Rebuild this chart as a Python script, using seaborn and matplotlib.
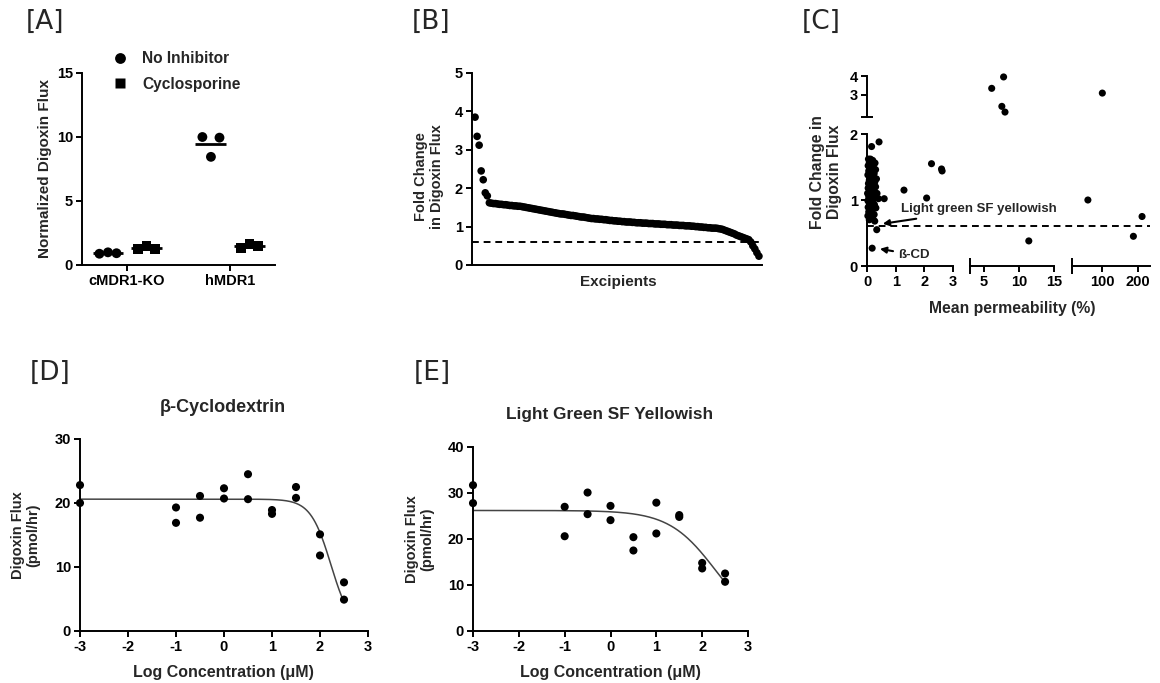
import numpy as np
import pandas as pd
import seaborn as sns
import matplotlib.pyplot as plt

# -------------------------------------------------
# Data
# -------------------------------------------------
# [A] normalized digoxin flux, three replicates per group
cells = ['cMDR1-KO', 'hMDR1']
no_inhibitor = [[0.88, 0.99, 0.92], [10.00, 8.45, 9.95]]
cyclosporine = [[1.25, 1.50, 1.28], [1.35, 1.61, 1.51]]

# [B] fold change in digoxin flux, excipients sorted high to low
fold_change = [
    3.85, 3.35, 3.12, 2.45, 2.22, 1.88, 1.80,
    1.62, 1.61, 1.60, 1.60, 1.59, 1.58, 1.58, 1.57, 1.57, 1.56, 1.55, 1.55,
    1.54, 1.54, 1.53, 1.53, 1.52,
    1.51, 1.50, 1.49, 1.48, 1.47, 1.46, 1.45, 1.44, 1.43, 1.42, 1.41, 1.40,
    1.39, 1.38, 1.37, 1.36, 1.35,
    1.34, 1.33, 1.33, 1.32, 1.31, 1.30, 1.29, 1.29, 1.28, 1.27, 1.26, 1.25,
    1.25, 1.24, 1.23, 1.22,
    1.21, 1.21, 1.20, 1.20, 1.19, 1.19, 1.18, 1.18, 1.17, 1.16, 1.16, 1.15,
    1.15, 1.14, 1.14, 1.13,
    1.13, 1.12, 1.12, 1.12, 1.11, 1.11, 1.10, 1.10, 1.10, 1.09, 1.09, 1.09,
    1.08, 1.08, 1.08, 1.07, 1.07,
    1.07, 1.06, 1.06, 1.06, 1.05, 1.05, 1.05, 1.04, 1.04, 1.04, 1.03, 1.03,
    1.03, 1.02, 1.02, 1.02,
    1.01, 1.01, 1.00, 1.00, 0.99, 0.99, 0.98, 0.98, 0.97, 0.97, 0.96, 0.96,
    0.96, 0.95, 0.94, 0.93, 0.91, 0.89, 0.87, 0.85, 0.83,
    0.81, 0.78, 0.76, 0.74, 0.72, 0.70, 0.68,
    0.66, 0.60, 0.50, 0.42, 0.32, 0.23,
]
threshold = 0.6

# [C] mean permeability (%) vs fold change
perm = [
    0.05, 0.12, 0.20, 0.08, 0.28, 0.15, 0.04, 0.22, 0.10, 0.30, 0.06, 0.18,
    0.25, 0.03, 0.12, 0.20, 0.33, 0.08, 0.15, 0.27, 0.05, 0.22, 0.11, 0.30,
    0.04, 0.17, 0.25, 0.09, 0.35, 0.02, 0.14, 0.21, 0.06, 0.28, 0.12, 0.40,
    0.03, 0.19, 0.08, 0.26, 0.14, 0.04, 0.22, 0.10, 0.31, 0.06, 0.17, 0.25,
    0.03, 0.12, 0.20, 0.08, 0.27,
    0.16, 0.42, 0.60, 1.29, 2.08, 2.25, 2.60, 2.62, 0.34, 0.18,
    6.1, 7.8, 7.55, 8.0, 11.4, 101, 61, 187, 211,
]
perm_fold = [
    1.62, 1.62, 1.60, 1.57, 1.56, 1.54, 1.52, 1.50, 1.48, 1.46, 1.44, 1.42,
    1.40, 1.38, 1.36, 1.34, 1.32, 1.30, 1.28, 1.27, 1.25, 1.23, 1.21, 1.20,
    1.18, 1.16, 1.14, 1.12, 1.10, 1.10, 1.08, 1.06, 1.05, 1.03, 1.01, 1.02,
    0.99, 0.97, 0.95, 0.93, 0.91, 0.89, 0.87, 0.85, 0.88, 0.82, 0.80, 0.78,
    0.76, 0.74, 0.72, 0.70, 0.68,
    1.81, 1.88, 1.02, 1.15, 1.03, 1.55, 1.47, 1.44, 0.55, 0.27,
    3.35, 3.95, 2.40, 2.10, 0.38, 3.10, 1.00, 0.45, 0.75,
]

# [D] / [E] concentration response
log_conc = [-3, -3, -1, -1, -0.5, -0.5, 0, 0, 0.5, 0.5, 1, 1, 1.5, 1.5, 2, 2, 2.5, 2.5]
flux_bcd = [22.8, 20.0, 19.3, 16.9, 21.1, 17.7, 22.3, 20.7, 24.5, 20.6,
            18.9, 18.3, 22.5, 20.8, 15.1, 11.8, 7.6, 4.9]
flux_lgsf = [31.7, 27.8, 27.0, 20.6, 30.1, 25.4, 27.2, 24.1, 20.4, 17.5,
             27.9, 21.2, 25.2, 24.8, 14.8, 13.6, 12.5, 10.7]
# fitted 4PL curve parameters (top, bottom, logIC50, hill)
fit_bcd = (20.6, 0.0, 2.23, 2.04)
fit_lgsf = (26.2, 0.0, 2.30, 0.85)

# -------------------------------------------------
# Style
# -------------------------------------------------
sns.set_theme(style='ticks')
plt.rcParams['font.family'] = ['Liberation Sans', 'DejaVu Sans']
plt.rcParams['font.weight'] = 'bold'
plt.rcParams['axes.unicode_minus'] = False
plt.rcParams['axes.linewidth'] = 1.4

TICK = 10.5

W, H = 1160, 683
fig = plt.figure(figsize=(W / 100, H / 100), dpi=100)


def add_px_axes(x0, y0, x1, y1):
    return fig.add_axes([x0 / W, 1 - y1 / H, (x1 - x0) / W, (y1 - y0) / H])


def fig_text(x, y, s, **kw):
    kw.setdefault('ha', 'center')
    kw.setdefault('va', 'center')
    fig.text(x / W, 1 - y / H, s, **kw)


def style_axes(ax, size=TICK):
    sns.despine(ax=ax)
    for sp in ['left', 'bottom']:
        ax.spines[sp].set_linewidth(1.4)
        ax.spines[sp].set_color('black')
    ax.tick_params(direction='out', length=4.5, width=1.4, colors='black',
                   labelsize=size, pad=2)
    ax.set_xlabel('')
    ax.set_ylabel('')
    for lab in ax.get_xticklabels() + ax.get_yticklabels():
        lab.set_fontweight('bold')


def panel_label(x, y, s):
    fig.text(x / W, 1 - y / H, s, fontsize=19, family='DejaVu Sans',
             fontweight='normal', ha='left', va='center')


# -------------------------------------------------
# [A]
# -------------------------------------------------
ax = add_px_axes(82, 73, 275, 265)
rows = []
for ci, cell in enumerate(cells):
    for treat, vals, shift in [('No Inhibitor', no_inhibitor[ci], -0.185),
                               ('Cyclosporine', cyclosporine[ci], 0.19)]:
        for ri, v in enumerate(vals):
            rows.append(dict(pos=ci + shift + (ri - 1) * 0.083, value=v,
                             Treatment=treat))
        ax.hlines(np.mean(vals), ci + shift - 0.15, ci + shift + 0.15,
                  color='black', lw=2)
df_a = pd.DataFrame(rows)
sns.scatterplot(data=df_a, x='pos', y='value', style='Treatment',
                markers={'No Inhibitor': 'o', 'Cyclosporine': 's'},
                color='black', s=50, edgecolor='none', ax=ax, zorder=3)
ax.set_xlim(-0.437, 1.437)
ax.set_ylim(0, 15)
ax.set_xticks([0, 1])
ax.set_xticklabels(cells)
ax.set_yticks([0, 5, 10, 15])
style_axes(ax)
handles, labels = ax.get_legend_handles_labels()
ax.legend(handles, labels, frameon=False, loc='upper left',
          bbox_to_anchor=(111 / W, 1 - 51 / H), bbox_transform=fig.transFigure,
          prop={'size': 11.2, 'weight': 'bold'}, handlelength=1.1,
          handletextpad=0.9, labelspacing=0.7, borderpad=0, borderaxespad=0,
          markerscale=1.1)
fig_text(45, 169, 'Normalized Digoxin Flux', rotation=90, fontsize=11,
         fontweight='bold')
panel_label(26, 22, '[A]')

# -------------------------------------------------
# [B]
# -------------------------------------------------
ax = add_px_axes(472, 73, 762, 265)
df_b = pd.DataFrame({'rank': np.arange(len(fold_change)), 'fold': fold_change})
sns.scatterplot(data=df_b, x='rank', y='fold', color='black', s=30,
                edgecolor='none', ax=ax, clip_on=False, zorder=3)
ax.axhline(threshold, color='black', lw=1.4, ls=(0, (3.5, 2.5)))
ax.set_xlim(-1.5, 140.5)
ax.set_ylim(0, 5)
ax.set_xticks([])
ax.set_yticks([0, 1, 2, 3, 4, 5])
style_axes(ax)
fig_text(618, 282, 'Excipients', fontsize=11, fontweight='bold')
fig_text(429, 177, 'Fold Change\nin Digoxin Flux', rotation=90, fontsize=10.5,
         fontweight='bold', linespacing=1.1)
panel_label(412, 22, '[B]')

# -------------------------------------------------
# [C] broken axes
# -------------------------------------------------
df_c = pd.DataFrame({'perm': perm, 'fold': perm_fold})
seg_x = [(867, 953, (0, 3), [0, 1, 2, 3], [3]),
         (970, 1054, (3, 15), [5, 10, 15], [3, 15]),
         (1072, 1150, (17, 233), [100, 200], [17])]
rows_y = [('upper', 76, 117, (1.84, 4.0), [3, 4], [1.84]),
          ('lower', 134, 266, (0, 2), [0, 1, 2], [2])]
c_axes = {}
for si, (x0, x1, xl, xt, xcaps) in enumerate(seg_x):
    for name, y0, y1, yl, yt, ycaps in rows_y:
        ax = add_px_axes(x0, y0, x1, y1)
        ax.patch.set_alpha(0)
        if name == 'upper':
            sub = df_c[(df_c.fold > 2) & df_c.perm.between(*xl)]
        else:
            sub = df_c[(df_c.fold <= 2) & df_c.perm.between(*xl)]
        sns.scatterplot(data=sub, x='perm', y='fold', color='black', s=26,
                        edgecolor='none', ax=ax, clip_on=False, zorder=3)
        ax.set_xlim(*xl)
        ax.set_ylim(*yl)
        style_axes(ax)
        for sp in ['left', 'bottom']:
            ax.spines[sp].set_visible(False)
        if name == 'lower':
            ax.spines['bottom'].set_visible(True)
            ax.set_xticks(xt)
            ax.set_xticks(xcaps, minor=True)
            ax.tick_params(axis='x', which='minor', direction='inout',
                           length=11, width=1.4, colors='black')
        else:
            ax.set_xticks([])
        if si == 0:
            ax.spines['left'].set_visible(True)
            ax.set_yticks(yt)
            ax.set_yticks(ycaps, minor=True)
            ax.tick_params(axis='y', which='minor', direction='inout',
                           length=9, width=1.4, colors='black')
        else:
            ax.set_yticks([])
        for lab in ax.get_xticklabels() + ax.get_yticklabels():
            lab.set_fontweight('bold')
        c_axes[(si, name)] = ax

ax = c_axes[(0, 'lower')]
ax.plot([0, (1150 - 867) / (953 - 867)], [threshold, threshold],
        transform=ax.get_yaxis_transform(), clip_on=False, color='black',
        lw=1.4, ls=(0, (3.5, 2.5)))
arrow = dict(arrowstyle='-|>', color='black', lw=1.5, mutation_scale=9,
             shrinkA=1, shrinkB=0)
ax.annotate('Light green SF yellowish', xy=(0.55, 0.64), xytext=(1.2, 0.86),
            fontsize=9.5, fontweight='bold', ha='left', va='center',
            arrowprops=arrow, annotation_clip=False)
ax.annotate('ß-CD', xy=(0.45, 0.26), xytext=(1.07, 0.17),
            fontsize=9.5, fontweight='bold', ha='left', va='center',
            arrowprops=arrow, annotation_clip=False)
fig_text(826, 172, 'Fold Change in\nDigoxin Flux', rotation=90, fontsize=11.3,
         fontweight='bold', linespacing=1.1)
fig_text(1012, 308, 'Mean permeability (%)', fontsize=11.3, fontweight='bold')
panel_label(802, 22, '[C]')


# -------------------------------------------------
# [D] and [E]
# -------------------------------------------------
def response_panel(rect, flux, fit, ymax, title, tsize, title_xy, lab_x, xlab_xy):
    ax = add_px_axes(*rect)
    df = pd.DataFrame({'logc': log_conc, 'flux': flux})
    sns.scatterplot(data=df, x='logc', y='flux', color='black', s=34,
                    edgecolor='none', ax=ax, clip_on=False, zorder=3)
    top, bottom, lic50, hill = fit
    xs = np.linspace(-3, 2.45, 300)
    ys = bottom + (top - bottom) / (1 + 10 ** ((xs - lic50) * hill))
    sns.lineplot(x=xs, y=ys, color='#444444', lw=1.1, ax=ax)
    ax.set_xlim(-3, 3)
    ax.set_ylim(0, ymax)
    ax.set_xticks(range(-3, 4))
    ax.set_yticks(range(0, ymax + 1, 10))
    style_axes(ax)
    fig_text(*title_xy, title, fontsize=tsize, fontweight='bold')
    fig_text(*xlab_xy, 'Log Concentration (μM)', fontsize=11.5,
             fontweight='bold')
    fig_text(lab_x, (rect[1] + rect[3]) / 2, 'Digoxin Flux\n(pmol/hr)',
             rotation=90, fontsize=10.5, fontweight='bold', linespacing=1.1)


response_panel((80, 439, 368, 631), flux_bcd, fit_bcd, 30, 'β-Cyclodextrin',
               13, (223, 408), 26, (223, 673))
panel_label(30, 373, '[D]')
response_panel((473, 447, 748, 631), flux_lgsf, fit_lgsf, 40,
               'Light Green SF Yellowish', 12.4, (610, 414), 420, (610, 672))
panel_label(414, 373, '[E]')

fig.savefig('out.png', dpi=100, facecolor='white')
